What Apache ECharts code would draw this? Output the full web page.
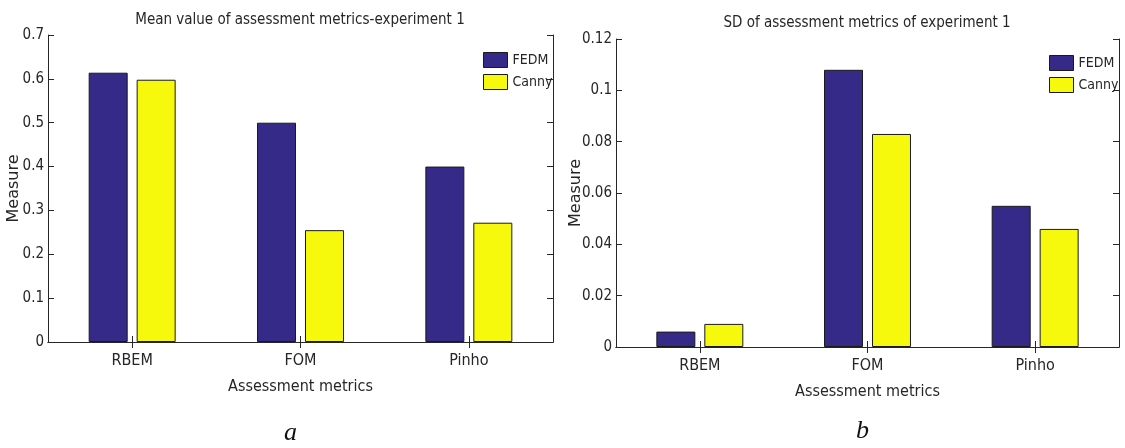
<!DOCTYPE html>
<html>
<head>
<meta charset="utf-8">
<script src="https://cdn.jsdelivr.net/npm/echarts@6/dist/echarts.min.js"></script>
<style>
  html, body { margin: 0; padding: 0; background: #fff; }
  #chart { width: 1125px; height: 448px; }
</style>
</head>
<body>
<div id="chart"></div>
<script>
// Assessment metrics (x categories) shared by both panels
const categories = ['RBEM', 'FOM', 'Pinho'];
const seriesNames = ['FEDM', 'Canny'];

// Panel a: mean value of the metrics
const meanFEDM = [0.614, 0.5, 0.4];
const meanCanny = [0.598, 0.255, 0.272];
const meanTicks = [0, 0.1, 0.2, 0.3, 0.4, 0.5, 0.6, 0.7];

// Panel b: standard deviation of the metrics
const sdFEDM = [0.006, 0.108, 0.055];
const sdCanny = [0.009, 0.083, 0.046];
const sdTicks = [0, 0.02, 0.04, 0.06, 0.08, 0.1, 0.12];

const NARROW = "'Liberation Sans Narrow', 'Arial Narrow', 'DejaVu Sans Condensed', sans-serif";
const INK = '#262626';
const NAVY = '#352a87';
const YELLOW = '#f7f90c';

const chart = echarts.init(document.getElementById('chart'), null, { renderer: 'canvas' });

const grids = [
  { left: 48, top: 35, width: 505, height: 307 },
  { left: 616, top: 39, width: 503, height: 308 }
];

function tickRange(ticks) {
  return { min: ticks[0], max: ticks[ticks.length - 1], interval: ticks[1] - ticks[0] };
}

const axisLine = { show: true, lineStyle: { color: INK, width: 1 } };

function xAxes(gridIndex) {
  return [
    {
      type: 'category', gridIndex, position: 'bottom', data: categories,
      name: 'Assessment metrics', nameLocation: 'middle', nameGap: 37, nameMoveOverlap: false,
      nameTextStyle: { fontFamily: NARROW, fontSize: 16, color: INK },
      axisLine, axisTick: { show: true, inside: true, alignWithLabel: true, length: 6, lineStyle: { color: INK } },
      axisLabel: { fontFamily: NARROW, fontSize: 16, color: INK, margin: 11 },
      splitLine: { show: false }
    },
    {
      type: 'category', gridIndex, position: 'top', data: categories,
      axisLine, axisTick: { show: true, inside: true, alignWithLabel: true, length: 6, lineStyle: { color: INK } },
      axisLabel: { show: false }, splitLine: { show: false }
    }
  ];
}

function yAxes(gridIndex, ticks, nameGap) {
  const r = tickRange(ticks);
  return [
    Object.assign({
      type: 'value', gridIndex, position: 'left',
      name: 'Measure', nameLocation: 'middle', nameGap, nameRotate: 90, nameMoveOverlap: false,
      nameTextStyle: { fontFamily: "'DejaVu Sans', sans-serif", fontSize: 16, color: INK },
      axisLine, axisTick: { show: true, inside: true, length: 6, lineStyle: { color: INK } },
      axisLabel: { fontFamily: NARROW, fontSize: 15, color: INK, margin: 4 },
      splitLine: { show: false }
    }, r),
    Object.assign({
      type: 'value', gridIndex, position: 'right',
      axisLine, axisTick: { show: true, inside: true, length: 6, lineStyle: { color: INK } },
      axisLabel: { show: false }, splitLine: { show: false }
    }, r)
  ];
}

function barSeries(name, data, color, axisBase) {
  return {
    name, type: 'bar', data,
    xAxisIndex: axisBase, yAxisIndex: axisBase,
    barWidth: 39, barGap: '23%',
    itemStyle: { color, borderColor: '#1a1a1a', borderWidth: 1 },
    emphasis: { disabled: true }
  };
}

function legend(left, top) {
  return {
    data: seriesNames, orient: 'vertical', left, top, padding: 0,
    icon: 'rect', itemWidth: 24, itemHeight: 15, itemGap: 6,
    itemStyle: { borderColor: '#1a1a1a', borderWidth: 1 },
    textStyle: { fontFamily: NARROW, fontSize: 14, color: INK }
  };
}

const option = {
  animation: false,
  backgroundColor: '#fff',
  title: [
    {
      text: 'Mean value of assessment metrics-experiment 1',
      left: 300, top: 13, textAlign: 'center', padding: 0,
      textStyle: { fontFamily: NARROW, fontSize: 15, fontWeight: 'normal', color: INK }
    },
    {
      text: 'SD of assessment metrics of experiment 1',
      left: 867, top: 16, textAlign: 'center', padding: 0,
      textStyle: { fontFamily: NARROW, fontSize: 15, fontWeight: 'normal', color: INK }
    }
  ],
  legend: [legend(483, 52), legend(1049, 55)],
  grid: grids,
  xAxis: [...xAxes(0), ...xAxes(1)],
  yAxis: [...yAxes(0, meanTicks, 26), ...yAxes(1, sdTicks, 32)],
  series: [
    barSeries('FEDM', meanFEDM, NAVY, 0),
    barSeries('Canny', meanCanny, YELLOW, 0),
    barSeries('FEDM', sdFEDM, NAVY, 2),
    barSeries('Canny', sdCanny, YELLOW, 2)
  ],
  graphic: [
    {
      type: 'text', left: 284, top: 420,
      style: { text: 'a', font: "italic 26px 'Liberation Serif', serif", fill: '#111' }
    },
    {
      type: 'text', left: 856, top: 418,
      style: { text: 'b', font: "italic 26px 'Liberation Serif', serif", fill: '#111' }
    }
  ]
};

chart.setOption(option);
</script>
</body>
</html>
